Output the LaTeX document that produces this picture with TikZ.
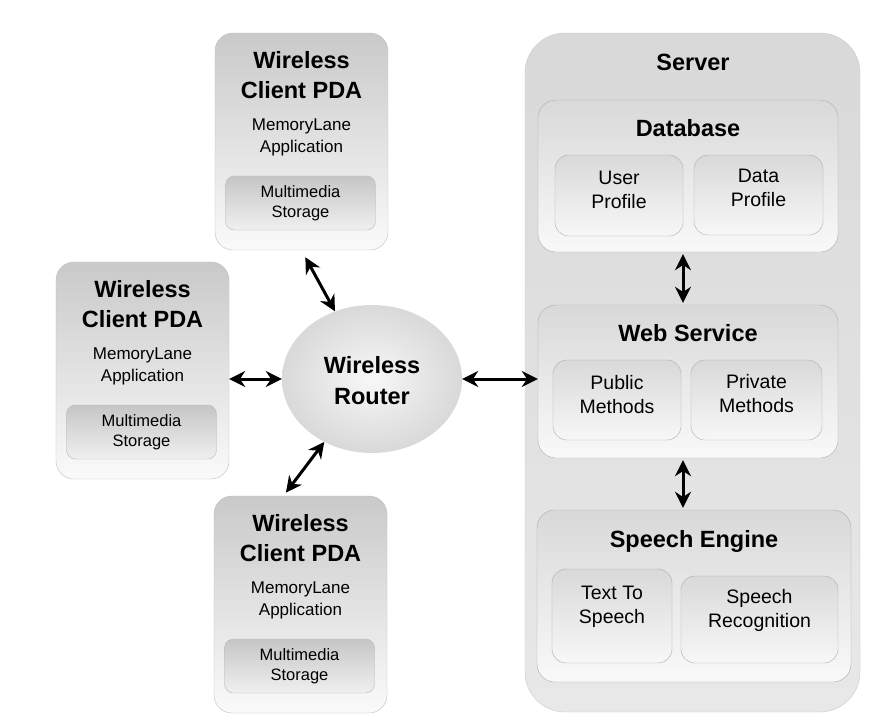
\documentclass[tikz,border=0pt]{standalone}
\usepackage{fontspec}
\setmainfont{Liberation Sans}
\usetikzlibrary{arrows.meta,shapes.geometric,calc}
\tikzset{
  pdabox/.style={draw=gray!50, rounded corners=18pt, top color=gray!42, bottom color=gray!4, minimum width=173pt, minimum height=217pt, inner sep=0pt},
  subbox/.style={draw=gray!55, rounded corners=9pt, top color=gray!45, bottom color=gray!12, inner sep=0pt, align=center, font=\fontsize{16.5}{19.5}\selectfont},
  serverbox/.style={draw=gray!40, rounded corners=40pt, top color=gray!30, bottom color=gray!18, inner sep=0pt},
  groupbox/.style={draw=gray!65, rounded corners=18pt, top color=gray!30, bottom color=gray!5, inner sep=0pt},
  innerbox/.style={draw=gray!65, rounded corners=14pt, top color=gray!30, bottom color=gray!6, inner sep=0pt},
  ttl/.style={font=\bfseries\fontsize{23.5}{30}\selectfont, align=center, inner sep=0pt},
  sub/.style={font=\fontsize{17}{22}\selectfont, align=center, inner sep=0pt},
  lbl/.style={font=\fontsize{19.5}{24}\selectfont, align=center, inner sep=0pt},
  conn/.style={{Stealth[length=16pt,width=16pt]}-{Stealth[length=16pt,width=16pt]}, line width=3pt},
}
\newcommand\pdaunit[3]{%
  \node[pdabox] (#1) at (#2,#3+108.5) {};
  \node[ttl] (#1t) at (#2,#3+42) {Wireless\\Client PDA};
  \node[sub] (#1a) at (#2,#3+104) {MemoryLane\\Application};
  \node[subbox, minimum width=150pt, minimum height=54pt] (#1s) at (#2-1,#3+170) {Multimedia\\Storage};
}
\begin{document}
\begin{tikzpicture}[x=1pt,y=-1pt]
\useasboundingbox[fill=white] (0,0) rectangle (886,720);
% PDAs
\pdaunit{pdatop}{301.5}{33}
\pdaunit{pdaleft}{142.5}{262}
\pdaunit{pdabot}{300.5}{496}
% Router
\node[ellipse, minimum width=180pt, minimum height=148pt, inner color=gray!6, outer color=gray!30, inner sep=0pt] (router) at (372,379) {};
\node[ttl, font=\bfseries\fontsize{23.5}{31}\selectfont] (routert) at (372,381) {Wireless\\Router};
% Server
\node[serverbox, minimum width=335pt, minimum height=679pt] (server) at (692.5,372.5) {};
\node[ttl] (servert) at (693,62) {Server};
% Database
\node[groupbox, minimum width=300pt, minimum height=152pt] (db) at (688,176) {};
\node[ttl] (dbt) at (688,128) {Database};
\node[innerbox, minimum width=128pt, minimum height=81pt] (up) at (619,195.5) {};
\node[lbl] (upt) at (619,190) {User\\Profile};
\node[innerbox, minimum width=129pt, minimum height=80pt] (dp) at (758.5,195) {};
\node[lbl] (dpt) at (758.5,188) {Data\\Profile};
% Web service
\node[groupbox, minimum width=300pt, minimum height=153pt] (ws) at (688,381.5) {};
\node[ttl] (wst) at (688,333) {Web Service};
\node[innerbox, minimum width=128pt, minimum height=80pt] (pm) at (617,400) {};
\node[lbl] (pmt) at (617,395) {Public\\Methods};
\node[innerbox, minimum width=131pt, minimum height=80pt] (prm) at (756.5,400) {};
\node[lbl] (prmt) at (756.5,394) {Private\\Methods};
% Speech engine
\node[groupbox, minimum width=314pt, minimum height=172pt] (se) at (694,596) {};
\node[ttl] (set) at (694,541) {Speech Engine};
\node[innerbox, minimum width=120pt, minimum height=94pt] (tts) at (612,616) {};
\node[lbl] (ttst) at (612,607) {Text To\\Speech};
\node[innerbox, minimum width=157pt, minimum height=87pt] (sr) at (759.5,619.5) {};
\node[lbl] (srt) at (759.5,610) {Speech\\Recognition};
% Connectors
\draw[conn, shorten <=8pt] (pdatop.south) -- (router);
\draw[conn, shorten <=4pt] ([xshift=-17pt]pdabot.north) -- (router);
\draw[conn] (pdaleft.east |- router) -- (router.west);
\draw[conn] (router.east) -- (ws.west |- router.east);
\draw[conn, shorten <=2pt, shorten >=2pt] ([xshift=-5pt]db.south) -- ([xshift=-5pt]ws.north);
\draw[conn, shorten <=2pt, shorten >=2pt] ([xshift=-5pt]ws.south) -- ([xshift=-5pt]ws.south |- se.north);
\end{tikzpicture}
\end{document}
